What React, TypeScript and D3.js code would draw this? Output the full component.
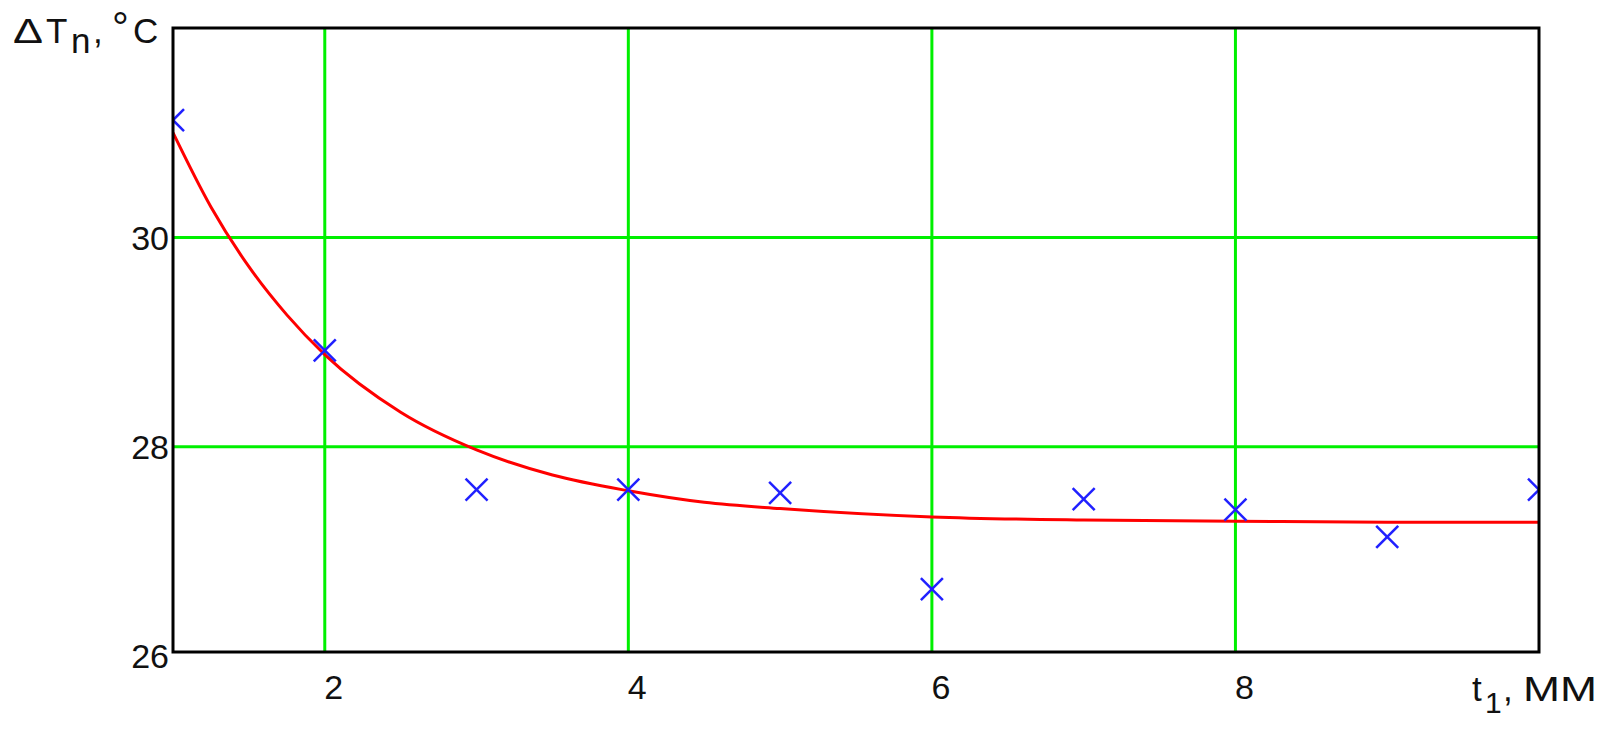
import React from 'react'
import * as d3 from 'd3'

// measured points (t1, mm -> dT, °C)
const tPoints = [1, 2, 3, 4, 5, 6, 7, 8, 9, 10]
const dtPoints = [31.12, 28.92, 27.59, 27.59, 27.56, 26.64, 27.5, 27.4, 27.14, 27.59]

// fitted curve
const fitT = [1, 1.25, 1.5, 1.75, 2, 2.5, 3, 3.5, 4, 4.5, 5, 6, 7, 8, 9, 10]
const fitDt = [31.0, 30.29, 29.72, 29.26, 28.88, 28.33, 27.97, 27.73, 27.58, 27.47, 27.41, 27.33, 27.3, 27.29, 27.28, 27.28]

const xTicks = [2, 4, 6, 8]
const yTicks = [26, 28, 30]
const xGrid = [2, 4, 6, 8]
const yGrid = [28, 30]

const W = 1616
const H = 742
const left = 173
const right = 1539
const top = 28
const bottom = 652
const font = '"Liberation Sans", Arial, sans-serif'
const ink = '#111'

const App: React.FC = () => {
  const x = d3.scaleLinear().domain([1, 10]).range([left, right])
  const y = d3.scaleLinear().domain([26.04, 32]).range([bottom, top])

  const fit = fitT.map((t, i) => ({ t, v: fitDt[i] }))
  const line = d3
    .line<{ t: number; v: number }>()
    .x(d => x(d.t))
    .y(d => y(d.v))
    .curve(d3.curveMonotoneX)

  const m = 11 // half size of the x markers

  return (
    <div style={{ position: 'absolute', left: 0, top: 0 }}>
      <svg width={W} height={H} style={{ display: 'block', background: '#fff' }}>
        <defs>
          <clipPath id="plot">
            <rect x={left} y={top} width={right - left} height={bottom - top} />
          </clipPath>
        </defs>

        {xGrid.map(v => (
          <line key={'gx' + v} x1={x(v)} x2={x(v)} y1={top} y2={bottom} stroke="#00f000" strokeWidth={3} />
        ))}
        {yGrid.map(v => (
          <line key={'gy' + v} x1={left} x2={right} y1={y(v)} y2={y(v)} stroke="#00f000" strokeWidth={3} />
        ))}

        <g clipPath="url(#plot)">
          <path d={line(fit) || ''} fill="none" stroke="#ff0000" strokeWidth={3} />
          {tPoints.map((t, i) => {
            const cx = x(t)
            const cy = y(dtPoints[i])
            return (
              <g key={'p' + t} stroke="#2020ff" strokeWidth={2.5}>
                <line x1={cx - m} y1={cy - m} x2={cx + m} y2={cy + m} />
                <line x1={cx - m} y1={cy + m} x2={cx + m} y2={cy - m} />
              </g>
            )
          })}
        </g>

        <rect x={left} y={top} width={right - left} height={bottom - top} fill="none" stroke="#000" strokeWidth={3} />

        {yTicks.map(v => (
          <text key={'yt' + v} x={169} y={y(v)} dy="0.36em" textAnchor="end" fontFamily={font} fontSize={34} fill={ink}>
            {v}
          </text>
        ))}
        {xTicks.map(v => (
          <text key={'xt' + v} x={x(v) + 9} y={699} textAnchor="middle" fontFamily={font} fontSize={34} fill={ink}>
            {v}
          </text>
        ))}

        {/* y axis title: ΔTn, °C */}
        <g fontFamily={font} fontSize={35} fill={ink}>
          <text x={13} y={43} textLength={30} lengthAdjust="spacingAndGlyphs">Δ</text>
          <text x={46} y={43}>T</text>
          <text x={71} y={53}>n</text>
          <text x={93} y={43}>,</text>
          <text x={112} y={42} fontSize={42}>°</text>
          <text x={133} y={43}>C</text>
        </g>

        {/* x axis title: t1, ММ */}
        <g fontFamily={font} fill={ink}>
          <text x={1472} y={701} fontSize={35}>t</text>
          <text x={1485} y={713} fontSize={30}>1</text>
          <text x={1503} y={701} fontSize={35}>,</text>
          <text x={1523} y={701} fontSize={35} textLength={74} lengthAdjust="spacingAndGlyphs">ММ</text>
        </g>
      </svg>
    </div>
  )
}

export default App
